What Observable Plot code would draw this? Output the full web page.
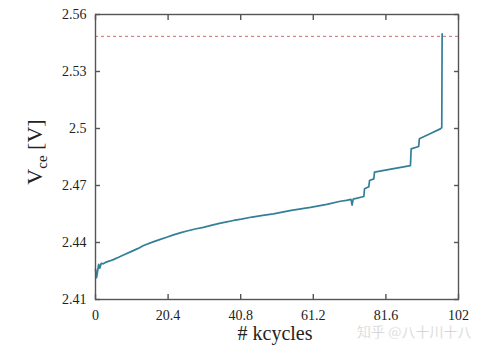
<!DOCTYPE html>
<html>
<head>
<meta charset="utf-8">
<script src="https://cdn.jsdelivr.net/npm/d3@7"></script>
<script src="https://cdn.jsdelivr.net/npm/@observablehq/plot@0.6"></script>
<style>
  html, body { margin: 0; padding: 0; background: #ffffff; }
  #chart { width: 489px; height: 349px; }
</style>
</head>
<body>
<div id="chart"></div>
<script>
const kcycles = [0, 0.3, 0.6, 0.9, 1.2, 1.6, 2.2, 3, 4, 5, 6.5, 8, 10, 12, 13.5, 16, 18, 20, 21.9, 24, 26, 28, 30.3, 32.5, 34.5, 36.5, 38.8, 41, 44, 47, 50, 55, 60.4, 65, 68.8, 70.5, 71.8, 72.1, 72.4, 75.4, 75.6, 76.8, 77.0, 78.2, 78.4, 83, 88.5, 88.7, 90.8, 91.0, 94, 96.9, 97.3, 97.4];
const vce = [2.426, 2.4215, 2.425, 2.4285, 2.4265, 2.429, 2.4288, 2.4297, 2.4303, 2.431, 2.4322, 2.4335, 2.4352, 2.4369, 2.4384, 2.4402, 2.4415, 2.4428, 2.444, 2.4452, 2.4462, 2.4471, 2.448, 2.449, 2.4499, 2.4507, 2.4516, 2.4523, 2.4534, 2.4543, 2.4551, 2.4569, 2.4585, 2.4601, 2.4617, 2.4622, 2.4627, 2.4597, 2.4628, 2.4642, 2.4683, 2.4693, 2.4726, 2.4735, 2.477, 2.4786, 2.4805, 2.4893, 2.4905, 2.4946, 2.4972, 2.4998, 2.5005, 2.5498];
const limitV = [2.5485];
const xTicks = [0, 20.4, 40.8, 61.2, 81.6, 102];
const yTicks = [2.41, 2.44, 2.47, 2.5, 2.53, 2.56];
const xLabel = "# kcycles";
const yLabelMain = "V";
const yLabelSub = "ce";
const yLabelUnit = " [V]";
const watermark = "知乎 @八十川十八";

const data = kcycles.map((k, i) => ({k, v: vce[i]}));

const plot = Plot.plot({
  width: 489,
  height: 349,
  marginLeft: 95,
  marginRight: 31,
  marginTop: 14,
  marginBottom: 50,
  style: {fontFamily: "Liberation Serif, serif", fontSize: "14px", color: "#222", background: "#ffffff"},
  x: {domain: [0, 102]},
  y: {domain: [2.41, 2.56]},
  marks: [
    Plot.ruleY(limitV, {stroke: "#c46f73", strokeWidth: 1, strokeDasharray: "3,3"}),
    Plot.line(data, {x: "k", y: "v", stroke: "#337f98", strokeWidth: 1.7}),
    Plot.frame({stroke: "#555", strokeWidth: 1.4}),
    Plot.axisX(xTicks, {anchor: "bottom", tickSize: -5, tickPadding: 16, label: null, tickFormat: d => String(d), stroke: "#555", strokeWidth: 1.4}),
    Plot.axisX(xTicks, {anchor: "top", tickSize: -5, tickFormat: () => "", label: null, stroke: "#555", strokeWidth: 1.4}),
    Plot.axisY(yTicks, {anchor: "left", tickSize: -5, tickPadding: 14, label: null, tickFormat: d => String(d), stroke: "#555", strokeWidth: 1.4}),
    Plot.axisY(yTicks, {anchor: "right", tickSize: -5, tickFormat: () => "", label: null, stroke: "#555", strokeWidth: 1.4}),
    Plot.text([xLabel], {frameAnchor: "bottom", dy: 34, dx: -2, fontSize: 20, lineAnchor: "middle", fill: "#222"})
  ]
});
document.getElementById("chart").appendChild(plot);

const svg = d3.select(plot);
const yl = svg.append("text")
  .attr("transform", "translate(42,152) rotate(-90)")
  .attr("text-anchor", "middle")
  .attr("font-family", "Liberation Serif, serif")
  .attr("font-size", 22)
  .attr("fill", "#222");
yl.append("tspan").text(yLabelMain);
yl.append("tspan").attr("font-size", 15).attr("dy", 5).text(yLabelSub);
yl.append("tspan").attr("dy", -5).text(yLabelUnit);

svg.append("text")
  .attr("x", 357).attr("y", 337)
  .attr("text-anchor", "start")
  .attr("font-family", "Noto Sans CJK SC, sans-serif")
  .attr("font-size", 14)
  .attr("fill", "#c4c4c4")
  .attr("stroke", "#ffffff").attr("stroke-width", 0.4)
  .text(watermark);
</script>
</body>
</html>
